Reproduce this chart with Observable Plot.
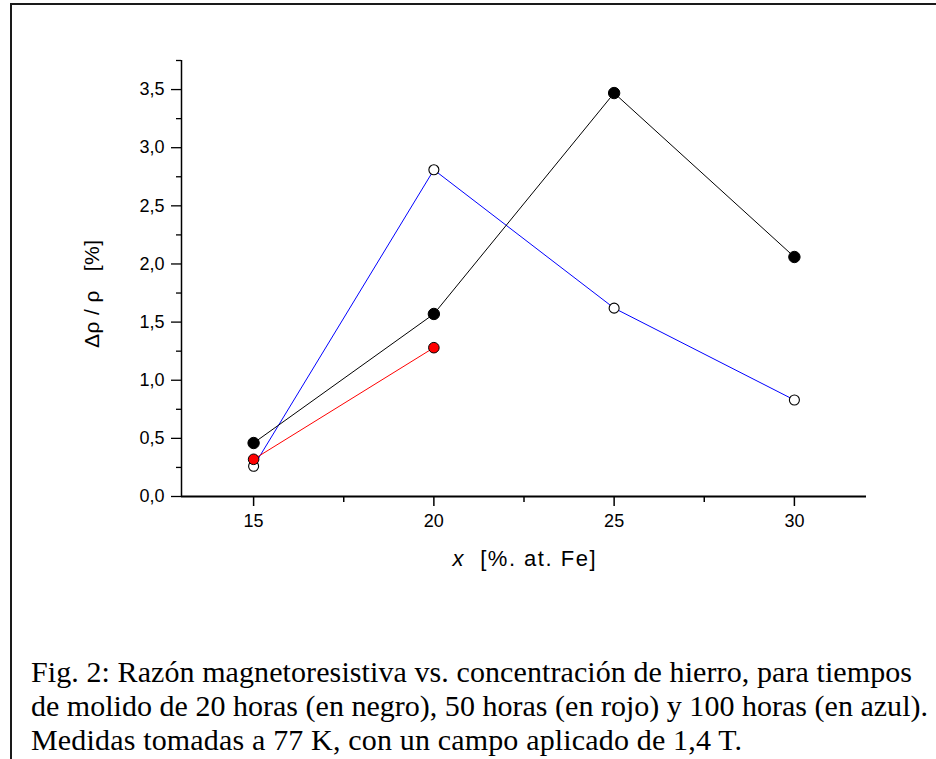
<!DOCTYPE html>
<html>
<head>
<meta charset="utf-8">
<script src="https://cdn.jsdelivr.net/npm/d3@7"></script>
<script src="https://cdn.jsdelivr.net/npm/@observablehq/plot@0.6"></script>
<style>
  html, body { margin: 0; padding: 0; background: white; }
  #chart { position: relative; width: 936px; height: 759px; overflow: hidden; }
</style>
</head>
<body>
<div id="chart"></div>
<script>
// ---- data ----
const xValues = [15, 20, 25, 30];
const molido20h = [0.46, 1.57, 3.47, 2.06];   // black, filled
const xValues50h = [15, 20];
const molido50h = [0.32, 1.28];               // red, filled
const molido100h = [0.26, 2.81, 1.62, 0.83];  // blue, open
const xTicks = [15, 20, 25, 30];
const xMinorTicks = [17.5, 22.5, 27.5];
const yTicks = [0, 0.5, 1, 1.5, 2, 2.5, 3, 3.5];
const yMinorTicks = [0.25, 0.75, 1.25, 1.75, 2.25, 2.75, 3.25, 3.75];
const yLabel = "\u0394\u03C1 / \u03C1\u00A0\u00A0\u00A0[%]";
const xLabelVar = "x";
const xLabelUnit = "\u00A0\u00A0[%. at. Fe]";
const captionLines = [
  "Fig. 2: Razón magnetoresistiva vs. concentración de hierro, para tiempos",
  "de molido de 20 horas (en negro), 50 horas (en rojo) y 100 horas (en azul).",
  "Medidas tomadas a 77 K, con un campo aplicado de 1,4 T."
];

const rows20 = xValues.map((x, i) => ({x, y: molido20h[i]}));
const rows50 = xValues50h.map((x, i) => ({x, y: molido50h[i]}));
const rows100 = xValues.map((x, i) => ({x, y: molido100h[i]}));

const fmt = d => d.toFixed(1).replace(".", ",");

const plot = Plot.plot({
  width: 936,
  height: 759,
  marginLeft: 181,
  marginRight: 70,
  marginTop: 60,
  marginBottom: 263,
  style: {
    fontFamily: "'Liberation Sans', Arial, sans-serif",
    fontSize: "18px",
    color: "black",
    background: "transparent"
  },
  x: {domain: [13, 32]},
  y: {domain: [0, 3.75]},
  marks: [
    Plot.axisY({ticks: yMinorTicks, tickSize: 5, tickFormat: () => "", label: null, strokeWidth: 1.3}),
    Plot.axisY({ticks: yTicks, tickSize: 10, tickPadding: 7, tickFormat: fmt, label: null, fontSize: 18, strokeWidth: 1.3}),
    Plot.axisX({ticks: xMinorTicks, tickSize: 6, tickFormat: () => "", label: null, strokeWidth: 1.5}),
    Plot.axisX({ticks: xTicks, tickSize: 10, tickPadding: 8, tickFormat: d => String(d), label: null, fontSize: 18, strokeWidth: 1.5}),
    Plot.ruleX([13], {y1: 0, y2: 3.75, stroke: "black", strokeWidth: 1.5}),
    Plot.ruleY([0], {x1: 13, x2: 32, stroke: "black", strokeWidth: 2}),
    Plot.line(rows100, {x: "x", y: "y", stroke: "#0000ff", strokeWidth: 1}),
    Plot.line(rows20, {x: "x", y: "y", stroke: "black", strokeWidth: 1}),
    Plot.line(rows50, {x: "x", y: "y", stroke: "#ff0000", strokeWidth: 1}),
    Plot.dot(rows100, {x: "x", y: "y", r: 5, fill: "white", stroke: "black", strokeWidth: 1.1}),
    Plot.dot(rows20, {x: "x", y: "y", r: 5.7, fill: "black", stroke: "black", strokeWidth: 1}),
    Plot.dot(rows50, {x: "x", y: "y", r: 5.3, fill: "#ff0000", stroke: "black", strokeWidth: 1})
  ]
});

document.getElementById("chart").appendChild(plot);

const svg = d3.select(plot);

// border frame
svg.insert("rect", ":first-child")
  .attr("x", 11).attr("y", 4)
  .attr("width", 940).attr("height", 800)
  .attr("fill", "none")
  .attr("stroke", "#1a1a1a")
  .attr("stroke-width", 2);

// y-axis label
svg.append("text")
  .attr("transform", "translate(99,294) rotate(-90)")
  .attr("text-anchor", "middle")
  .attr("font-family", "'Liberation Sans', Arial, sans-serif")
  .attr("font-size", 21)
  .attr("fill", "black")
  .attr("textLength", 108)
  .attr("lengthAdjust", "spacing")
  .text(yLabel);

// x-axis label
const xl = svg.append("text")
  .attr("x", 524)
  .attr("y", 566)
  .attr("text-anchor", "middle")
  .attr("font-family", "'Liberation Sans', Arial, sans-serif")
  .attr("font-size", 22)
  .attr("fill", "black")
  .attr("textLength", 143)
  .attr("lengthAdjust", "spacing");
xl.append("tspan").attr("font-style", "italic").text(xLabelVar);
xl.append("tspan").text(xLabelUnit);

// caption
const capLengths = [881, 897, 711];
captionLines.forEach((line, i) => {
  svg.append("text")
    .attr("x", 31)
    .attr("y", 682 + i * 34)
    .attr("text-anchor", "start")
    .attr("font-family", "'Liberation Serif', 'Times New Roman', serif")
    .attr("font-size", 30)
    .attr("fill", "black")
    .attr("textLength", capLengths[i])
    .attr("lengthAdjust", "spacing")
    .text(line);
});
</script>
</body>
</html>
